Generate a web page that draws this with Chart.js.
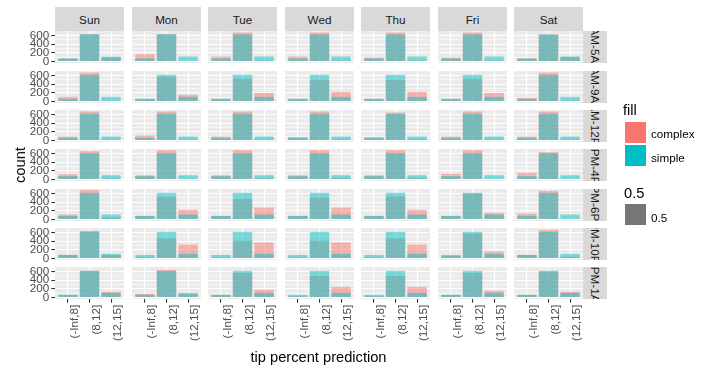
<!DOCTYPE html>
<html>
<head>
<meta charset="utf-8">
<script src="https://cdn.jsdelivr.net/npm/chart.js@4.4.1/dist/chart.umd.min.js"></script>
<style>
  body { margin: 0; width: 721px; height: 371px; position: relative; overflow: hidden; background: #fff;
         font-family: "Liberation Sans", Arial, sans-serif; }
  canvas { position: absolute; }
  .strip { position: absolute; background: #d9d9d9; color: #1a1a1a; font-size: 11.7px;
           display: flex; align-items: center; justify-content: center; }
  .rstrip { position: absolute; background: #d9d9d9; overflow: hidden; }
  .rstrip span { position: absolute; left: 50%; top: 50%; white-space: nowrap; font-size: 11.7px; color: #1a1a1a;
                 transform: translate(-50%, -50%) rotate(90deg); }
  .txt { position: absolute; white-space: nowrap; }
  .key { position: absolute; width: 21px; height: 21px; }
</style>
</head>
<body>
<script>
const days = ['Sun', 'Mon', 'Tue', 'Wed', 'Thu', 'Fri', 'Sat'];
const periods = ['1AM-5AM', '5AM-9AM', '9AM-12PM', '12PM-4PM', '4PM-6PM', '6PM-10PM', '10PM-1AM'];
const categories = ['(-Inf,8]', '(8,12]', '(12,15]'];
const yTicks = [0, 100, 200, 300, 400, 500, 600];

// one row per period, one triple (per category) per day
const complexCounts = [
  [[70, 630, 95], [170, 630, 0], [115, 670, 23], [115, 670, 23], [92, 670, 23], [92, 670, 23], [70, 624, 105]],
  [[108, 670, 0], [62, 570, 154], [62, 524, 200], [62, 500, 223], [62, 500, 223], [62, 524, 200], [85, 670, 23]],
  [[92, 670, 23], [115, 670, 23], [92, 670, 23], [70, 670, 30], [70, 647, 30], [92, 670, 23], [92, 670, 23]],
  [[123, 654, 20], [100, 677, 8], [100, 677, 30], [100, 677, 38], [100, 677, 38], [131, 677, 0], [154, 631, 0]],
  [[115, 685, 46], [85, 524, 223], [85, 477, 277], [85, 508, 277], [85, 531, 223], [85, 600, 154], [138, 662, 10]],
  [[85, 639, 85], [30, 462, 323], [30, 408, 370], [30, 408, 370], [30, 462, 323], [55, 577, 162], [85, 662, 40]],
  [[62, 616, 131], [85, 639, 77], [62, 570, 177], [30, 500, 246], [30, 500, 246], [62, 570, 154], [62, 600, 131]]
];
const simpleCounts = [
  [[70, 630, 110], [70, 630, 115], [70, 624, 115], [70, 624, 115], [70, 624, 115], [70, 624, 115], [70, 624, 115]],
  [[62, 616, 108], [62, 616, 108], [62, 616, 108], [62, 616, 108], [62, 616, 108], [62, 616, 108], [62, 616, 108]],
  [[62, 616, 92], [62, 616, 92], [62, 616, 92], [70, 616, 92], [70, 616, 92], [62, 616, 92], [62, 616, 92]],
  [[77, 608, 100], [77, 608, 100], [77, 608, 100], [77, 608, 100], [77, 608, 100], [77, 608, 100], [77, 608, 100]],
  [[85, 616, 115], [85, 616, 115], [85, 616, 115], [85, 616, 115], [85, 616, 115], [85, 616, 115], [85, 616, 115]],
  [[85, 616, 108], [85, 616, 108], [85, 616, 108], [85, 616, 108], [85, 616, 108], [85, 616, 108], [85, 616, 108]],
  [[62, 616, 108], [62, 616, 108], [62, 616, 108], [62, 616, 108], [62, 616, 108], [62, 616, 108], [62, 616, 108]]
];

// panel grid layout
const colLeft = [55, 132, 208, 285, 361, 438, 514];
const rowTop = [31, 71, 110, 149, 189, 228, 267];
const panelW = 69;
const panelH = 32;
const FONT = '"Liberation Sans", Arial, sans-serif';

function addDiv(cls, css, text) {
  const d = document.createElement('div');
  d.className = cls;
  Object.assign(d.style, css);
  if (text !== undefined) d.textContent = text;
  document.body.appendChild(d);
  return d;
}

const panelBg = {
  id: 'panelBg',
  beforeDraw(chart) {
    const a = chart.chartArea;
    const ctx = chart.ctx;
    ctx.save();
    ctx.fillStyle = '#ebebeb';
    ctx.fillRect(a.left, a.top, a.right - a.left, a.bottom - a.top);
    ctx.restore();
  }
};

function zeroPad(s) {
  s.paddingLeft = 0; s.paddingRight = 0; s.paddingTop = 0; s.paddingBottom = 0;
}

function makePanel(r, c) {
  const left = c === 0;
  const bottom = r === periods.length - 1;
  const yw = left ? 55 : 0;
  const xh = bottom ? 60 : 0;
  const padT = left ? 8 : 0;
  const padB = left && !bottom ? 8 : 0;

  const cv = document.createElement('canvas');
  const w = panelW + yw, h = panelH + padT + padB + xh;
  cv.width = w; cv.height = h;
  cv.style.left = (colLeft[c] - yw) + 'px';
  cv.style.top = (rowTop[r] - padT) + 'px';
  cv.style.width = w + 'px';
  cv.style.height = h + 'px';
  document.body.appendChild(cv);

  const barStyle = { grouped: false, barPercentage: 0.9, categoryPercentage: 1, borderWidth: 0 };

  new Chart(cv, {
    type: 'bar',
    data: {
      datasets: [
        Object.assign({
          label: 'complex', order: 2, backgroundColor: 'rgba(248,118,109,0.5)',
          data: complexCounts[r][c].map((v, k) => ({ x: k + 1, y: v }))
        }, barStyle),
        Object.assign({
          label: 'simple', order: 1, backgroundColor: 'rgba(0,191,196,0.5)',
          data: simpleCounts[r][c].map((v, k) => ({ x: k + 1, y: v }))
        }, barStyle)
      ]
    },
    options: {
      responsive: false,
      animation: false,
      devicePixelRatio: 1,
      layout: { padding: { left: 0, right: 0, top: padT, bottom: padB } },
      plugins: { legend: { display: false }, tooltip: { enabled: false } },
      scales: {
        x: {
          type: 'linear', min: 0.4, max: 3.6, bounds: 'data', offset: false,
          afterBuildTicks: s => { s.ticks = categories.map((_, k) => ({ value: k + 1 })); },
          afterFit: s => { s.height = xh; zeroPad(s); },
          border: { display: false },
          grid: { color: '#ffffff', lineWidth: 1.07, offset: false, drawTicks: bottom,
                  tickLength: 3.7, tickColor: '#333333', tickWidth: 1.07 },
          ticks: { display: bottom, autoSkip: false, minRotation: 90, maxRotation: 90, padding: 2,
                   labelOffset: 7, color: '#4d4d4d', font: { family: FONT, size: 11.7 },
                   callback: v => categories[v - 1] }
        },
        y: {
          type: 'linear', min: -34, max: 705, bounds: 'data',
          afterBuildTicks: s => { s.ticks = yTicks.map(v => ({ value: v })); },
          afterFit: s => { s.width = yw; zeroPad(s); },
          border: { display: false },
          grid: {
            color: '#ffffff',
            lineWidth: ctx => (ctx.tick && ctx.tick.value % 200 === 0 ? 1.07 : 0.53),
            drawTicks: left, tickLength: 3.7, tickWidth: 1.07,
            tickColor: ctx => (ctx.tick && ctx.tick.value % 200 === 0 ? '#333333' : 'rgba(0,0,0,0)')
          },
          ticks: { display: left, autoSkip: false, padding: 2, color: '#4d4d4d',
                   font: { family: FONT, size: 11.7 },
                   callback: v => (v % 200 === 0 ? String(v) : '') }
        }
      }
    },
    plugins: [panelBg]
  });
}

// strips
days.forEach((d, c) => {
  addDiv('strip', { left: colLeft[c] + 'px', top: '7px', width: panelW + 'px', height: '24px' }, d);
});
periods.forEach((p, r) => {
  const s = addDiv('rstrip', { left: (colLeft[6] + panelW) + 'px', top: rowTop[r] + 'px', width: '24px', height: panelH + 'px' });
  const sp = document.createElement('span');
  sp.textContent = p;
  s.appendChild(sp);
});

for (let r = 0; r < periods.length; r++) {
  for (let c = 0; c < days.length; c++) makePanel(r, c);
}

// axis titles
addDiv('txt', { left: '19.5px', top: '165px', fontSize: '14.67px', color: '#000',
                transform: 'translate(-50%, -50%) rotate(-90deg)' }, 'count');
addDiv('txt', { left: '318.5px', top: '357px', fontSize: '14.67px', color: '#000',
                transform: 'translate(-50%, -50%)' }, 'tip percent prediction');

// legend
addDiv('txt', { left: '623px', top: '110px', fontSize: '14.67px', transform: 'translateY(-50%)' }, 'fill');
addDiv('key', { left: '625px', top: '122px', background: '#f8766d' });
addDiv('key', { left: '625px', top: '145px', background: '#00bfc4' });
addDiv('txt', { left: '651px', top: '133px', fontSize: '11.7px', transform: 'translateY(-50%)' }, 'complex');
addDiv('txt', { left: '651px', top: '156.5px', fontSize: '11.7px', transform: 'translateY(-50%)' }, 'simple');
addDiv('txt', { left: '624px', top: '193px', fontSize: '14.67px', transform: 'translateY(-50%)' }, '0.5');
addDiv('key', { left: '625px', top: '204px', background: '#767676' });
addDiv('txt', { left: '651px', top: '216.5px', fontSize: '11.7px', transform: 'translateY(-50%)' }, '0.5');
</script>
</body>
</html>
